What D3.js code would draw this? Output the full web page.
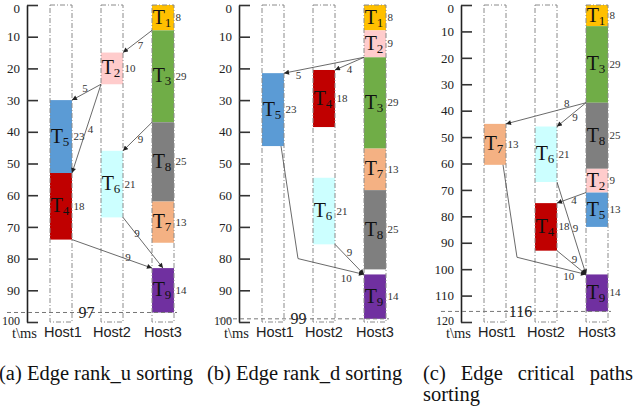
<!DOCTYPE html>
<html><head><meta charset="utf-8">
<script src="https://cdn.jsdelivr.net/npm/d3@7"></script>
<style>
html,body{margin:0;padding:0;background:#fff;}
svg{display:block;}
</style>
</head><body>
<svg id="chart" width="635" height="412"></svg>
<script>
// ---------- data ----------
const hosts = ["Host1", "Host2", "Host3"];
const axisTitle = "t\\ms";
const panelMax = [100, 100, 120];
const makespans = [97, 99, 116];
const captions = [
  ["(a)", "Edge", "rank_u", "sorting"],
  ["(b)", "Edge", "rank_d", "sorting"],
  ["(c)", "Edge", "critical", "paths", "sorting"]
];
// [task, host, start, end, cost]
const tasksA = [
  ["T1","Host3",0,8,8], ["T3","Host3",8,37,29], ["T8","Host3",37,62,25],
  ["T7","Host3",62,75,13], ["T9","Host3",83,97,14], ["T2","Host2",15,25,10],
  ["T6","Host2",46,67,21], ["T5","Host1",30,53,23], ["T4","Host1",53,74,18]
];
const tasksB = [
  ["T1","Host3",0,8,8], ["T2","Host3",8,16.5,9], ["T3","Host3",16.5,45.3,29],
  ["T7","Host3",45.3,58.4,13], ["T8","Host3",58.4,83.4,25], ["T9","Host3",85,99,14],
  ["T5","Host1",21.5,44.5,23], ["T4","Host2",20.5,38.5,18], ["T6","Host2",54.5,75.5,21]
];
const tasksC = [
  ["T1","Host3",0,8,8], ["T3","Host3",8,37,29], ["T8","Host3",37,62,25],
  ["T2","Host3",62,71,9], ["T5","Host3",71,84,13], ["T9","Host3",102,116,14],
  ["T7","Host1",45,60.5,13], ["T6","Host2",46,67,21], ["T4","Host2",75,93,18]
];
// [from, to, weight]
const edgesA = [["T1","T2",7],["T2","T5",5],["T2","T4",4],["T3","T6",9],["T6","T9",9],["T4","T9",9]];
const edgesB = [["T2","T5",5],["T2","T4",4],["T5","T9",10],["T6","T9",9]];
const edgesC = [["T3","T7",8],["T3","T6",9],["T2","T4",4],["T6","T9",9],["T4","T9",9],["T7","T9",10]];
// bend times for routed edges (panel-edgeIndex) -> time of bend point
const bendTimes = {"1-2": 80, "2-5": 95.5};

// ---------- styles / layout ----------
const taskColors = {
  T1:"#FFC000", T2:"#FFCCCC", T3:"#70AD47", T4:"#C00000", T5:"#5B9BD5",
  T6:"#CCFFFF", T7:"#F4B183", T8:"#7F7F7F", T9:"#7030A0"
};
const panelAxisX = [27, 239, 461];
const colW = 22;
const serif = "'Liberation Serif','Times New Roman',serif";
const sans = "'Liberation Sans',Arial,sans-serif";
// label placement along edge: t along (last) segment, offsets dx/dy
const edgeLabelLayout = [
  [{t:0.4,dx:0,dy:6},{t:0.55,dx:0,dy:-5},{t:0.5,dx:4,dy:0},{t:0.4,dx:0,dy:5},{t:0.4,dx:-2,dy:-5},{t:0.7,dx:0,dy:-3}],
  [{t:0.82,dx:0,dy:5},{t:0.5,dx:0,dy:5},{t:0.73,dx:0,dy:8},{t:0.5,dx:0,dy:-7}],
  [{t:0.24,dx:0,dy:-5},{t:0.38,dx:0,dy:5},{t:0.41,dx:0,dy:3},{t:0.5,dx:4,dy:0},{t:0.6,dx:0,dy:-6},{t:0.75,dx:0,dy:6}]
];
const bendDx = [0, 17, 14];
const targetMid = {"0-4": true};

const svg = d3.select("#chart");
const defs = svg.append("defs");
defs.append("marker").attr("id","arr")
  .attr("viewBox","0 0 10 10").attr("refX",10).attr("refY",5)
  .attr("markerUnits","userSpaceOnUse").attr("markerWidth",6).attr("markerHeight",5)
  .attr("orient","auto")
  .append("path").attr("d","M0,0L10,5L0,10z").attr("fill","#222");

const allTasks = [tasksA, tasksB, tasksC];
const allEdges = [edgesA, edgesB, edgesC];

allTasks.forEach((tasksRaw, p) => {
  const ax = panelAxisX[p];
  const y = d3.scaleLinear().domain([0, panelMax[p]]).range([5, 322]);
  const x = d3.scalePoint().domain(hosts).range([ax + 34, ax + 136]);
  const g = svg.append("g");
  const tasks = tasksRaw.map(d => ({name:d[0], host:d[1], start:d[2], end:d[3], cost:d[4]}));
  const byName = Object.fromEntries(tasks.map(t => [t.name, t]));

  // axis
  const axisG = g.append("g").attr("transform", `translate(${ax},0)`)
    .call(d3.axisLeft(y).tickValues(d3.range(0, panelMax[p] + 1, 10))
      .tickSize(-11).tickSizeOuter(0).tickPadding(7));
  axisG.select(".domain").attr("stroke","#222").attr("stroke-width",1.6);
  axisG.selectAll(".tick line").attr("stroke","#333").attr("stroke-width",1.6);
  axisG.selectAll(".tick text").attr("font-family",serif).attr("font-size",13).attr("fill","#222")
    .attr("dy", d => d === 0 ? "0.55em" : (d === panelMax[p] ? "0.2em" : "0.32em"))
    .attr("font-size", d => d === panelMax[p] ? 12 : 13);
  g.append("text").attr("x", ax + 10).attr("y", 338).attr("text-anchor","end")
    .attr("font-family",serif).attr("font-size",14.5).attr("fill","#222").text(axisTitle);

  // tasks
  g.selectAll("rect.task").data(tasks).join("rect").attr("class","task")
    .attr("x", d => x(d.host) - colW/2).attr("width", colW)
    .attr("y", d => y(d.start)).attr("height", d => y(d.end) - y(d.start))
    .attr("fill", d => taskColors[d.name]);

  // host columns
  g.selectAll("rect.col").data(hosts).join("rect").attr("class","col")
    .attr("x", h => x(h) - colW/2).attr("width", colW)
    .attr("y", y(0)).attr("height", y(panelMax[p]) - y(0))
    .attr("fill","none").attr("stroke","#8a8a8a").attr("stroke-width",1)
    .attr("stroke-dasharray","5,2,1,2");

  // host labels
  g.selectAll("text.host").data(hosts).join("text").attr("class","host")
    .attr("x", h => x(h) + (h === "Host1" ? 2 : 0)).attr("y", 337).attr("text-anchor","middle")
    .attr("font-family",sans).attr("font-size",14.5).attr("fill","#222").text(h => h);

  // makespan line
  const my = y(makespans[p]);
  g.append("line").attr("x1", ax - 20).attr("x2", x("Host3") + colW/2 + 3)
    .attr("y1", my).attr("y2", my).attr("stroke","#777").attr("stroke-width",1)
    .attr("stroke-dasharray","4,3");
  g.append("text").attr("x", (x("Host1") + x("Host2")) / 2).attr("y", my + 5.5)
    .attr("text-anchor","middle").attr("font-family",serif).attr("font-size",16)
    .attr("fill","#222").text(makespans[p]);

  // task labels
  tasks.forEach(d => {
    const cy = (y(d.start) + y(d.end)) / 2;
    const t = g.append("text").attr("x", x(d.host) - 1).attr("y", cy + 6)
      .attr("text-anchor","middle").attr("font-family",serif).attr("fill","#111");
    t.append("tspan").attr("font-size",20).text("T");
    t.append("tspan").attr("font-size",13).attr("dy",3).text(d.name.slice(1));
    g.append("text").attr("x", x(d.host) + colW/2 + 1.5).attr("y", cy + 3.5)
      .attr("font-family",serif).attr("font-size",11).attr("fill","#333").text(d.cost);
  });

  // edges
  const edges = allEdges[p].map(e => ({from:byName[e[0]], to:byName[e[1]], w:e[2]}));
  edges.forEach((e, i) => {
    const s = e.from, t = e.to;
    const right = x(t.host) > x(s.host);
    const key = p + "-" + i;
    let sx = right ? x(s.host) + colW/2 : x(s.host) - colW/2;
    let tx = right ? x(t.host) - colW/2 : x(t.host) + colW/2;
    if (targetMid[key]) tx = x(t.host);
    const pts = [];
    if (bendTimes[key] !== undefined) {
      sx -= 3;
      pts.push([sx, y(s.end)]);
      pts.push([sx + bendDx[p], y(bendTimes[key])]);
    } else {
      pts.push([sx, y(s.end)]);
    }
    pts.push([tx, y(t.start)]);
    g.append("path").attr("d", d3.line()(pts)).attr("fill","none")
      .attr("stroke","#444").attr("stroke-width",0.8).attr("marker-end","url(#arr)");
    const L = edgeLabelLayout[p][i];
    const a = pts[pts.length - 2], b = pts[pts.length - 1];
    const lx = a[0] + (b[0] - a[0]) * L.t + L.dx;
    const ly = a[1] + (b[1] - a[1]) * L.t + L.dy;
    g.append("text").attr("x", lx).attr("y", ly + 4).attr("text-anchor","middle")
      .attr("font-family",serif).attr("font-size",11).attr("fill","#333").text(e.w);
  });
});

// captions
const capFont = 20.5;
function capText(words, x0, yb) {
  return svg.append("text").attr("x", x0).attr("y", yb).attr("font-family",serif)
    .attr("font-size",capFont).attr("fill","#111").text(words.join(" "));
}
capText(captions[0], -1, 380);
capText(captions[1], 207, 380);
// (c) justified over two lines
(function(){
  const words = captions[2].slice(0, 4);
  const x0 = 423, x1 = 633;
  const widths = words.map(w => {
    const t = svg.append("text").attr("font-family",serif).attr("font-size",capFont).text(w);
    const wd = t.node().getComputedTextLength(); t.remove(); return wd;
  });
  const gap = (x1 - x0 - d3.sum(widths)) / (words.length - 1);
  let cx = x0;
  words.forEach((w, i) => {
    svg.append("text").attr("x", cx).attr("y", 380).attr("font-family",serif)
      .attr("font-size",capFont).attr("fill","#111").text(w);
    cx += widths[i] + gap;
  });
  svg.append("text").attr("x", x0).attr("y", 401).attr("font-family",serif)
    .attr("font-size",capFont).attr("fill","#111").text(captions[2][4]);
})();
</script>
</body></html>
